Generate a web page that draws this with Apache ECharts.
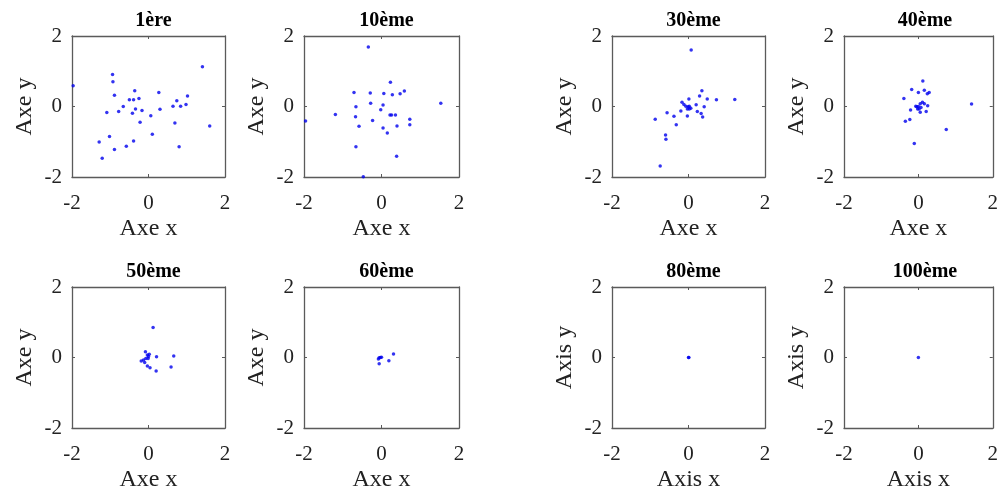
<!DOCTYPE html>
<html>
<head>
<meta charset="utf-8">
<script src="https://cdn.jsdelivr.net/npm/echarts@6/dist/echarts.min.js"></script>
<style>html,body{margin:0;padding:0;background:#fff}#c{width:1001px;height:501px}</style>
</head>
<body>
<div id="c"></div>
<script>
// ---- data ----
const titles = ['1ère', '10ème', '30ème', '40ème', '50ème', '60ème', '80ème', '100ème'];
const xNames = ['Axe x', 'Axe x', 'Axe x', 'Axe x', 'Axe x', 'Axe x', 'Axis x', 'Axis x'];
const yNames = ['Axe y', 'Axe y', 'Axe y', 'Axe y', 'Axe y', 'Axe y', 'Axis y', 'Axis y'];
const tickValues = [-2, 0, 2];

const pts1 = [[-1.97,0.59],[-0.94,0.91],[-0.93,0.70],[-0.89,0.32],[-1.09,-0.17],[-1.02,-0.85],[-1.29,-1.01],
  [-1.21,-1.47],[-0.89,-1.22],[-0.78,-0.14],[-0.66,0.00],[-0.50,0.19],[-0.39,0.19],[-0.36,0.45],[-0.25,0.23],
  [-0.34,-0.07],[-0.42,-0.19],[-0.17,-0.11],[-0.22,-0.45],[-0.58,-1.13],[-0.39,-0.98],[0.06,-0.26],[0.27,0.40],
  [0.30,-0.08],[0.10,-0.79],[0.64,0.01],[0.74,0.16],[0.84,0.01],[0.98,0.06],[1.02,0.30],[0.69,-0.47],
  [0.80,-1.14],[1.41,1.13],[1.60,-0.55]];
const pts10 = [[-0.34,1.69],[0.23,0.69],[-0.71,0.40],[-0.29,0.38],[0.06,0.37],[0.28,0.33],[0.48,0.36],[0.59,0.44],
  [-0.28,0.09],[0.04,0.04],[-0.66,-0.01],[-0.02,-0.09],[1.53,0.09],[-1.96,-0.41],[-1.19,-0.23],[-0.67,-0.29],
  [-0.23,-0.40],[0.22,-0.24],[0.26,-0.24],[0.36,-0.24],[0.73,-0.36],[0.73,-0.52],[0.40,-0.55],[-0.58,-0.56],
  [0.04,-0.61],[0.15,-0.75],[-0.66,-1.14],[0.39,-1.41],[-0.47,-1.99]];
const pts30 = [[0.07,1.60],[0.35,0.45],[0.29,0.30],[0.49,0.21],[0.73,0.19],[1.21,0.20],[0.01,0.21],[-0.17,0.12],
  [-0.12,0.06],[-0.07,0.01],[-0.01,-0.01],[0.02,0.01],[0.06,-0.05],[-0.03,-0.07],[0.20,0.05],[0.41,-0.01],
  [0.23,-0.14],[-0.20,-0.13],[-0.03,-0.27],[0.33,-0.20],[0.37,-0.30],[-0.56,-0.18],[-0.38,-0.28],[-0.87,-0.36],
  [-0.32,-0.52],[-0.60,-0.81],[-0.59,-0.93],[-0.74,-1.69],[0.02,-0.07]];
const pts40 = [[0.12,0.72],[-0.18,0.48],[0.00,0.40],[0.16,0.46],[0.24,0.36],[0.29,0.40],[-0.39,0.23],[0.00,0.00],
  [-0.04,-0.01],[0.05,0.08],[0.11,0.12],[0.16,0.08],[0.07,-0.03],[0.02,-0.07],[0.25,0.02],[-0.21,-0.10],
  [0.05,-0.16],[0.21,-0.14],[-0.23,-0.37],[-0.35,-0.42],[1.43,0.07],[0.75,-0.65],[-0.11,-1.05],[-0.07,0.01],
  [-0.02,-0.07]];
const pts50 = [[0.12,0.85],[-0.08,0.16],[-0.03,0.07],[0.00,0.03],[-0.07,-0.03],[-0.13,-0.07],[-0.19,-0.10],
  [-0.10,-0.14],[-0.03,-0.24],[0.04,-0.29],[0.21,0.02],[0.66,0.04],[0.59,-0.27],[0.20,-0.38],[-0.01,-0.03],
  [0.02,0.09]];
const pts60 = [[-0.06,-0.01],[-0.03,0.00],[0.00,0.01],[-0.06,-0.18],[0.19,-0.09],[0.31,0.10],[-0.08,-0.04]];
const pts80 = [[0.00,0.00],[0.01,0.00]];
const pts100 = [[0.00,0.00]];
const panelData = [pts1, pts10, pts30, pts40, pts50, pts60, pts80, pts100];

// ---- layout ----
const lefts = [72, 304, 612, 844];
const widths = [153, 155, 153, 152];
const tops = [36, 287];
const H = 141;
const FONT = 'Liberation Serif';
const AX = '#5a5a5a';
const TXT = '#222';

const grids = [], xAxes = [], yAxes = [], series = [], titleComps = [];
panelData.forEach((pts, i) => {
  const col = i % 4, row = Math.floor(i / 4);
  grids.push({ left: lefts[col], top: tops[row], width: widths[col], height: H, containLabel: false });
  const common = {
    type: 'value', min: tickValues[0], max: tickValues[tickValues.length - 1], interval: 2,
    gridIndex: i, splitLine: { show: false },
    axisLine: { show: true, onZero: false, lineStyle: { color: AX, width: 1.3 } },
    axisTick: { show: true, inside: true, length: 3, lineStyle: { color: AX } }
  };
  xAxes.push(Object.assign({}, common, {
    position: 'bottom',
    name: xNames[i], nameLocation: 'middle', nameGap: 40,
    nameTextStyle: { fontFamily: FONT, fontSize: 24, color: TXT },
    axisLabel: { fontFamily: FONT, fontSize: 21, color: TXT, margin: 16 }
  }));
  xAxes.push(Object.assign({}, common, { position: 'top', axisLabel: { show: false } }));
  yAxes.push(Object.assign({}, common, {
    position: 'left',
    name: yNames[i], nameLocation: 'middle', nameGap: 35, nameRotate: 90,
    nameTextStyle: { fontFamily: FONT, fontSize: 24, color: TXT },
    axisLabel: { fontFamily: FONT, fontSize: 21, color: TXT, margin: 10 }
  }));
  yAxes.push(Object.assign({}, common, { position: 'right', axisLabel: { show: false } }));
  series.push({
    type: 'scatter', xAxisIndex: 2 * i, yAxisIndex: 2 * i, data: pts,
    symbol: 'circle', symbolSize: 3.5, itemStyle: { color: '#0000ee' }, silent: true
  });
  titleComps.push({
    text: titles[i], left: lefts[col] + widths[col] / 2, top: tops[row] - 30, textAlign: 'center',
    textStyle: { fontFamily: FONT, fontSize: 20, fontWeight: 'bold', color: '#000' }
  });
});

const chart = echarts.init(document.getElementById('c'), null, { renderer: 'canvas' });
chart.setOption({
  backgroundColor: '#fff',
  animation: false,
  title: titleComps,
  grid: grids,
  xAxis: xAxes,
  yAxis: yAxes,
  series: series
});
</script>
</body>
</html>
